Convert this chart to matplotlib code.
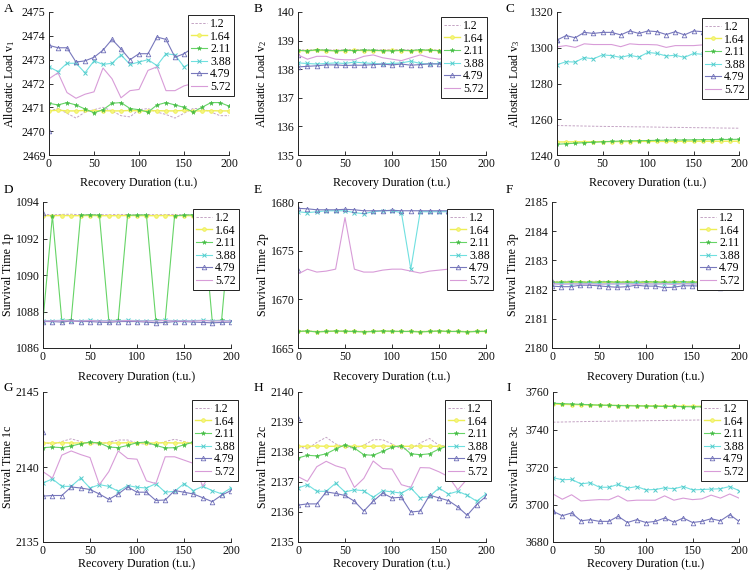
import matplotlib
matplotlib.use("Agg")
import matplotlib.pyplot as plt
import matplotlib.transforms as mtransforms

plt.rcParams['font.family'] = ['Liberation Serif', 'DejaVu Serif']
plt.rcParams['mathtext.fontset'] = 'custom'
plt.rcParams['mathtext.rm'] = 'Liberation Serif'
plt.rcParams['mathtext.it'] = 'Liberation Serif:italic'

# ---------------- data ----------------
recovery = [0, 10, 20, 30, 40, 50, 60, 70, 80, 90, 100, 110, 120, 130, 140, 150, 160, 170, 180, 190, 200]
# the 4.79 series has an extra starting point at duration 0
recovery_479 = [0, 0, 10, 20, 30, 40, 50, 60, 70, 80, 90, 100, 110, 120, 130, 140, 150, 160, 170, 180, 190, 200]
series_labels = ['1.2', '1.64', '2.11', '3.88', '4.79', '5.72']

# Panel A: Allostatic Load v1
A_12 = [2470.85, 2470.95, 2470.75, 2470.55, 2470.8, 2470.9, 2471.0, 2470.85, 2470.65, 2470.6, 2470.9, 2470.95, 2470.8, 2470.7, 2470.55, 2470.75, 2470.95, 2470.95, 2470.8, 2470.65, 2470.65]
A_164 = [2470.85, 2470.88, 2470.85, 2470.85, 2470.87, 2470.85, 2470.86, 2470.85, 2470.85, 2470.87, 2470.85, 2470.85, 2470.86, 2470.85, 2470.85, 2470.87, 2470.85, 2470.85, 2470.86, 2470.85, 2470.85]
A_211 = [2471.17, 2471.1, 2471.2, 2471.1, 2470.93, 2470.77, 2470.9, 2471.17, 2471.2, 2470.95, 2470.9, 2470.8, 2471.1, 2471.2, 2471.1, 2471.0, 2470.8, 2471.0, 2471.2, 2471.2, 2471.05]
A_388 = [2472.7, 2472.5, 2472.85, 2472.85, 2472.45, 2472.95, 2472.8, 2472.85, 2473.2, 2472.8, 2472.9, 2473.0, 2472.75, 2473.25, 2473.2, 2472.7, 2472.9, 2473.0, 2472.8, 2473.1, 2472.95]
A_479 = [2470.0, 2473.6, 2473.5, 2473.5, 2472.9, 2472.95, 2473.1, 2473.4, 2473.85, 2473.45, 2473.0, 2473.25, 2473.25, 2473.95, 2473.85, 2473.1, 2473.25, 2473.5, 2473.3, 2473.6, 2473.45, 2473.15]
A_572 = [2472.2, 2472.45, 2471.62, 2471.38, 2471.55, 2471.65, 2472.65, 2472.2, 2471.4, 2471.7, 2471.75, 2472.55, 2472.7, 2471.7, 2471.7, 2471.9, 2472.0, 2472.3, 2471.9, 2471.6, 2471.9]

# Panel B: Allostatic Load v2
B_12 = [138.68, 138.67, 138.69, 138.68, 138.67, 138.68, 138.69, 138.68, 138.67, 138.68, 138.68, 138.69, 138.67, 138.68, 138.68, 138.67, 138.68, 138.69, 138.68, 138.67, 138.68]
B_164 = [138.65, 138.65, 138.66, 138.65, 138.65, 138.65, 138.66, 138.65, 138.65, 138.65, 138.66, 138.65, 138.65, 138.65, 138.66, 138.65, 138.65, 138.65, 138.66, 138.65, 138.65]
B_211 = [138.66, 138.64, 138.68, 138.66, 138.64, 138.66, 138.65, 138.67, 138.66, 138.65, 138.64, 138.66, 138.65, 138.68, 138.66, 138.65, 138.66, 138.64, 138.66, 138.65, 138.65]
B_388 = [138.22, 138.2, 138.18, 138.2, 138.22, 138.2, 138.25, 138.22, 138.2, 138.18, 138.2, 138.22, 138.28, 138.2, 138.18, 138.2, 138.22, 138.2, 138.2, 138.22, 138.2]
B_479 = [138.5, 138.08, 138.1, 138.12, 138.15, 138.15, 138.13, 138.14, 138.14, 138.16, 138.18, 138.15, 138.18, 138.14, 138.16, 138.19, 138.18, 138.18, 138.2, 138.2, 138.2, 138.2]
B_572 = [138.5, 138.35, 138.45, 138.45, 138.35, 138.33, 138.33, 138.45, 138.5, 138.4, 138.35, 138.3, 138.4, 138.5, 138.4, 138.35, 138.4, 138.45, 138.4, 138.45, 138.4]

# Panel C: Allostatic Load v3
C_12 = [1256.5, 1256.4, 1256.3, 1256.2, 1256.1, 1256.0, 1255.95, 1255.9, 1255.8, 1255.75, 1255.7, 1255.6, 1255.5, 1255.45, 1255.4, 1255.3, 1255.25, 1255.2, 1255.1, 1255.05, 1255.0]
C_164 = [1247.3, 1247.3, 1247.4, 1247.4, 1247.4, 1247.5, 1247.5, 1247.5, 1247.5, 1247.6, 1247.6, 1247.6, 1247.6, 1247.6, 1247.7, 1247.7, 1247.7, 1247.7, 1247.7, 1247.7, 1247.7]
C_211 = [1246.0, 1246.3, 1246.6, 1246.9, 1247.1, 1247.4, 1247.6, 1247.8, 1247.9, 1248.0, 1248.1, 1248.2, 1248.3, 1248.4, 1248.4, 1248.5, 1248.6, 1248.6, 1248.7, 1248.7, 1248.8]
C_388 = [1290.5, 1292.2, 1292.0, 1294.5, 1293.8, 1296.0, 1295.6, 1294.6, 1295.8, 1294.8, 1297.4, 1296.8, 1295.4, 1295.8, 1294.6, 1296.8, 1296.3, 1296.8, 1295.8, 1296.3, 1296.8]
C_479 = [1304.3, 1304.3, 1306.8, 1305.6, 1308.6, 1308.0, 1308.6, 1308.6, 1307.2, 1309.4, 1308.0, 1309.4, 1309.0, 1307.4, 1309.0, 1307.2, 1309.4, 1309.0, 1309.4, 1308.6, 1309.4, 1309.2]
C_572 = [1300.5, 1301.2, 1300.2, 1302.2, 1301.8, 1301.8, 1301.8, 1300.6, 1302.2, 1301.8, 1301.8, 1301.6, 1300.2, 1301.2, 1301.2, 1301.2, 1301.6, 1301.2, 1301.6, 1301.2, 1300.7]

# Panel D: Survival Time 1p
D_12 = [1093.32, 1093.3, 1093.32, 1093.33, 1093.3, 1093.32, 1093.31, 1093.3, 1093.32, 1093.31, 1093.3, 1093.32, 1093.3, 1093.31, 1093.32, 1093.3, 1093.31, 1093.32, 1093.3, 1093.31, 1093.32]
D_164 = [1093.25, 1093.25, 1093.26, 1093.25, 1093.25, 1093.26, 1093.25, 1093.25, 1093.25, 1093.26, 1093.25, 1093.25, 1093.25, 1093.26, 1093.25, 1093.25, 1093.25, 1093.26, 1093.25, 1093.25, 1093.25]
D_211 = [1087.5, 1093.25, 1087.5, 1087.55, 1093.28, 1093.3, 1093.28, 1087.5, 1087.52, 1093.28, 1093.28, 1093.3, 1087.55, 1087.5, 1093.25, 1093.28, 1093.3, 1093.28, 1087.5, 1087.52, 1093.25]
D_388 = [1087.5, 1087.5, 1087.52, 1087.5, 1087.5, 1087.52, 1087.5, 1087.5, 1087.5, 1087.52, 1087.5, 1087.5, 1087.5, 1087.52, 1087.5, 1087.5, 1087.5, 1087.52, 1087.5, 1087.5, 1087.5]
D_479 = [1093.4, 1087.45, 1087.45, 1087.42, 1087.48, 1087.45, 1087.45, 1087.42, 1087.4, 1087.45, 1087.45, 1087.45, 1087.42, 1087.38, 1087.4, 1087.45, 1087.45, 1087.42, 1087.4, 1087.38, 1087.4, 1087.42]
D_572 = [1087.48, 1087.48, 1087.5, 1087.48, 1087.48, 1087.5, 1087.48, 1087.48, 1087.48, 1087.5, 1087.48, 1087.48, 1087.48, 1087.5, 1087.48, 1087.48, 1087.48, 1087.5, 1087.48, 1087.48, 1087.48]

# Panel E: Survival Time 2p
E_12 = [1666.72, 1666.75, 1666.7, 1666.72, 1666.75, 1666.72, 1666.7, 1666.72, 1666.7, 1666.75, 1666.72, 1666.7, 1666.72, 1666.7, 1666.72, 1666.75, 1666.7, 1666.72, 1666.7, 1666.72, 1666.72]
E_164 = [1666.7, 1666.72, 1666.68, 1666.7, 1666.72, 1666.7, 1666.7, 1666.68, 1666.7, 1666.72, 1666.7, 1666.7, 1666.7, 1666.68, 1666.7, 1666.72, 1666.7, 1666.7, 1666.68, 1666.7, 1666.7]
E_211 = [1666.7, 1666.75, 1666.65, 1666.7, 1666.75, 1666.72, 1666.7, 1666.65, 1666.7, 1666.75, 1666.72, 1666.7, 1666.7, 1666.65, 1666.7, 1666.75, 1666.7, 1666.7, 1666.65, 1666.7, 1666.72]
E_388 = [1679.0, 1678.9, 1679.0, 1679.1, 1679.1, 1679.1, 1678.9, 1678.8, 1679.0, 1679.1, 1679.1, 1678.9, 1673.1, 1679.0, 1679.0, 1679.0, 1679.0, 1679.0, 1679.0, 1679.0, 1679.0]
E_479 = [1673.0, 1679.35, 1679.3, 1679.2, 1679.2, 1679.2, 1679.25, 1679.2, 1679.1, 1679.1, 1679.1, 1679.15, 1679.1, 1679.1, 1679.1, 1679.1, 1679.1, 1679.1, 1679.05, 1679.05, 1679.0, 1679.0]
E_572 = [1672.6, 1673.1, 1672.8, 1672.9, 1673.1, 1678.4, 1673.1, 1672.8, 1672.8, 1673.0, 1673.1, 1673.1, 1672.9, 1672.7, 1672.9, 1673.0, 1673.1, 1673.0, 1672.9, 1673.0, 1673.0]

# Panel F: Survival Time 3p
F_12 = [2182.28, 2182.28, 2182.29, 2182.28, 2182.28, 2182.29, 2182.28, 2182.28, 2182.28, 2182.29, 2182.28, 2182.28, 2182.28, 2182.29, 2182.28, 2182.28, 2182.28, 2182.29, 2182.28, 2182.28, 2182.28]
F_164 = [2182.25, 2182.25, 2182.25, 2182.26, 2182.25, 2182.25, 2182.25, 2182.26, 2182.25, 2182.25, 2182.25, 2182.26, 2182.25, 2182.25, 2182.25, 2182.26, 2182.25, 2182.25, 2182.25, 2182.26, 2182.25]
F_211 = [2182.26, 2182.25, 2182.27, 2182.26, 2182.25, 2182.26, 2182.27, 2182.25, 2182.26, 2182.25, 2182.27, 2182.26, 2182.25, 2182.26, 2182.27, 2182.25, 2182.26, 2182.25, 2182.27, 2182.26, 2182.25]
F_388 = [2182.2, 2182.2, 2182.19, 2182.2, 2182.21, 2182.2, 2182.19, 2182.2, 2182.2, 2182.21, 2182.2, 2182.19, 2182.2, 2182.2, 2182.21, 2182.2, 2182.19, 2182.2, 2182.2, 2182.21, 2182.2]
F_479 = [2182.3, 2182.12, 2182.1, 2182.1, 2182.15, 2182.15, 2182.13, 2182.1, 2182.08, 2182.1, 2182.15, 2182.12, 2182.12, 2182.07, 2182.08, 2182.13, 2182.13, 2182.12, 2182.1, 2182.07, 2182.1, 2182.12]
F_572 = [2182.2, 2182.18, 2182.2, 2182.19, 2182.2, 2182.18, 2182.2, 2182.19, 2182.2, 2182.18, 2182.2, 2182.19, 2182.2, 2182.18, 2182.2, 2182.19, 2182.2, 2182.18, 2182.2, 2182.19, 2182.2]

# Panel G: Survival Time 1c
G_12 = [2141.66, 2141.5, 2141.7, 2141.88, 2141.7, 2141.55, 2141.55, 2141.65, 2141.8, 2141.8, 2141.6, 2141.5, 2141.5, 2141.7, 2141.85, 2141.7, 2141.55, 2141.6, 2141.7, 2141.7, 2141.75]
G_164 = [2141.6, 2141.6, 2141.62, 2141.6, 2141.6, 2141.62, 2141.6, 2141.6, 2141.6, 2141.62, 2141.6, 2141.6, 2141.6, 2141.62, 2141.6, 2141.6, 2141.6, 2141.62, 2141.6, 2141.6, 2141.6]
G_211 = [2141.29, 2141.33, 2141.29, 2141.4, 2141.55, 2141.66, 2141.6, 2141.33, 2141.29, 2141.44, 2141.62, 2141.66, 2141.44, 2141.27, 2141.29, 2141.48, 2141.66, 2141.6, 2141.44, 2141.4, 2141.44]
G_388 = [2138.93, 2139.21, 2138.71, 2138.71, 2139.26, 2138.6, 2138.82, 2138.71, 2138.38, 2138.76, 2138.65, 2138.6, 2138.89, 2138.32, 2138.38, 2138.89, 2138.43, 2138.71, 2138.43, 2138.21, 2138.6]
G_479 = [2142.31, 2138.06, 2138.1, 2138.1, 2138.67, 2138.6, 2138.5, 2138.2, 2137.84, 2138.2, 2138.67, 2138.32, 2138.32, 2137.77, 2137.8, 2138.43, 2138.32, 2138.2, 2137.95, 2137.69, 2138.12, 2138.43]
G_572 = [2139.69, 2139.26, 2140.79, 2141.07, 2140.83, 2140.63, 2138.82, 2139.69, 2141.07, 2140.57, 2140.52, 2139.08, 2138.89, 2140.68, 2140.68, 2140.46, 2140.24, 2138.71, 2139.8, 2140.9, 2140.31]

# Panel H: Survival Time 2c
H_12 = [2138.19, 2138.1, 2138.32, 2138.49, 2138.27, 2138.16, 2138.13, 2138.22, 2138.41, 2138.41, 2138.27, 2138.1, 2138.1, 2138.3, 2138.45, 2138.22, 2138.19, 2138.2, 2138.3, 2138.35, 2138.38]
H_164 = [2138.19, 2138.19, 2138.2, 2138.19, 2138.19, 2138.2, 2138.19, 2138.19, 2138.19, 2138.2, 2138.19, 2138.19, 2138.19, 2138.2, 2138.19, 2138.19, 2138.19, 2138.2, 2138.19, 2138.19, 2138.19]
H_211 = [2137.8, 2137.89, 2137.87, 2137.94, 2138.1, 2138.24, 2138.13, 2137.91, 2137.89, 2138.02, 2138.16, 2138.21, 2137.94, 2137.91, 2137.94, 2138.1, 2138.21, 2138.16, 2138.0, 2137.94, 2138.02]
H_388 = [2136.8, 2136.91, 2136.69, 2136.69, 2136.96, 2136.67, 2136.74, 2136.71, 2136.49, 2136.71, 2136.67, 2136.63, 2136.8, 2136.47, 2136.52, 2136.8, 2136.6, 2136.69, 2136.56, 2136.36, 2136.6]
H_479 = [2139.14, 2136.23, 2136.27, 2136.27, 2136.67, 2136.62, 2136.55, 2136.36, 2136.03, 2136.36, 2136.63, 2136.47, 2136.49, 2136.0, 2136.03, 2136.56, 2136.47, 2136.38, 2136.17, 2135.89, 2136.25, 2136.52]
H_572 = [2137.18, 2137.02, 2137.51, 2137.69, 2137.54, 2137.45, 2136.82, 2137.12, 2137.7, 2137.45, 2137.43, 2136.91, 2136.82, 2137.48, 2137.47, 2137.34, 2137.18, 2136.74, 2137.1, 2137.6, 2137.36]

# Panel I: Survival Time 3c
I_12 = [3743.9, 3744.0, 3744.1, 3744.2, 3744.3, 3744.35, 3744.4, 3744.5, 3744.55, 3744.6, 3744.7, 3744.75, 3744.8, 3744.9, 3744.95, 3745.0, 3745.1, 3745.15, 3745.2, 3745.3, 3745.4]
I_164 = [3753.6, 3753.4, 3753.3, 3753.2, 3753.1, 3753.0, 3752.9, 3752.8, 3752.8, 3752.7, 3752.6, 3752.6, 3752.5, 3752.5, 3752.4, 3752.4, 3752.4, 3752.3, 3752.3, 3752.3, 3752.2]
I_211 = [3754.0, 3753.8, 3753.6, 3753.4, 3753.2, 3753.0, 3752.9, 3752.8, 3752.7, 3752.6, 3752.5, 3752.4, 3752.3, 3752.3, 3752.2, 3752.1, 3752.1, 3752.0, 3752.0, 3751.9, 3751.9]
I_388 = [3714.3, 3713.2, 3713.4, 3711.0, 3711.6, 3709.2, 3709.2, 3710.7, 3708.7, 3709.6, 3707.8, 3708.0, 3708.9, 3708.4, 3709.6, 3707.8, 3708.0, 3708.2, 3708.4, 3709.6, 3707.4]
I_479 = [3696.4, 3696.4, 3694.0, 3695.5, 3691.3, 3691.9, 3691.0, 3691.0, 3693.7, 3690.4, 3691.9, 3690.4, 3691.0, 3692.8, 3690.6, 3692.8, 3690.4, 3691.0, 3692.4, 3691.3, 3694.6, 3691.0]
I_572 = [3705.6, 3702.8, 3705.2, 3701.9, 3702.3, 3702.6, 3702.5, 3704.6, 3701.9, 3702.3, 3702.3, 3702.3, 3704.6, 3702.3, 3703.4, 3702.6, 3703.0, 3705.0, 3703.4, 3705.6, 3703.4]

# ---------------- styling ----------------
styles = [
    dict(color='#c4a4c4', lw=0.7, ls=(0, (2.5, 1.5)), marker=None),
    dict(color='#eeee55', lw=1.0, ls='-', marker='o', ms=2.6, mfc='#f6f680', mec='#eeee55', mew=0.6),
    dict(color='#66d466', lw=0.8, ls='-', marker='*', ms=3.4, mfc='#44bb44', mec='#44bb44', mew=0.3),
    dict(color='#70e0e0', lw=0.8, ls='-', marker='x', ms=2.5, mec='#55cccc', mew=0.7),
    dict(color='#7878bc', lw=0.8, ls='-', marker='^', ms=3.3, mfc='none', mec='#7070b8', mew=0.6),
    dict(color='#d89cd8', lw=0.8, ls='-', marker=None),
]

W, H = 750, 571
fig = plt.figure(figsize=(W / 100, H / 100), dpi=100)

def add_axes_px(l, t, r, b):
    return fig.add_axes([l / W, 1 - b / H, (r - l) / W, (b - t) / H])

panels = [
    # letter, box(l,t,r,b), ylim, yticks, ylabel, series, legend corner, ylabel x, letter pos, xlabel y
    ('A', (49, 12, 229, 155), (2469, 2475), [2469, 2470, 2471, 2472, 2473, 2474, 2475], 'Allostatic Load v$_1$',
     [A_12, A_164, A_211, A_388, A_479, A_572], (234, 15), 10, (4, 9), 183),
    ('B', (298, 12, 486, 155), (135, 140), [135, 136, 137, 138, 139, 140], 'Allostatic Load v$_2$',
     [B_12, B_164, B_211, B_388, B_479, B_572], (487, 17), 262, (254, 9), 183),
    ('C', (557, 12, 739, 155), (1240, 1320), [1240, 1260, 1280, 1300, 1320], 'Allostatic Load v$_3$',
     [C_12, C_164, C_211, C_388, C_479, C_572], (748, 18), 515, (506, 9), 183),
    ('D', (43, 202, 231, 348), (1086, 1094), [1086, 1088, 1090, 1092, 1094], 'Survival Time 1p',
     [D_12, D_164, D_211, D_388, D_479, D_572], (239, 209), 8, (4, 190), 377),
    ('E', (298, 202, 486, 348), (1665, 1680), [1665, 1670, 1675, 1680], 'Survival Time 2p',
     [E_12, E_164, E_211, E_388, E_479, E_572], (493, 209), 263, (254, 190), 377),
    ('F', (552, 202, 739, 348), (2180, 2185), [2180, 2181, 2182, 2183, 2184, 2185], 'Survival Time 3p',
     [F_12, F_164, F_211, F_388, F_479, F_572], (743, 209), 513, (506, 190), 377),
    ('G', (43, 392, 231, 542), (2135, 2145), [2135, 2140, 2145], 'Survival Time 1c',
     [G_12, G_164, G_211, G_388, G_479, G_572], (238, 400), 8, (4, 388), 564),
    ('H', (298, 392, 486, 542), (2135, 2140), [2135, 2136, 2137, 2138, 2139, 2140], 'Survival Time 2c',
     [H_12, H_164, H_211, H_388, H_479, H_572], (491, 400), 263, (254, 388), 564),
    ('I', (553, 392, 739, 542), (3680, 3760), [3680, 3700, 3720, 3740, 3760], 'Survival Time 3c',
     [I_12, I_164, I_211, I_388, I_479, I_572], (747, 400), 515, (506, 388), 564),
]

TFS = 8.6   # tick labels
LFS = 8.6   # axis labels
GFS = 8.5   # legend
for letter, box, ylim, yticks, ylabel, series, leg_corner, ylab_x, let_pos, xlab_y in panels:
    ax = add_axes_px(*box)
    for lab, vals, st in zip(series_labels, series, styles):
        xs = recovery_479 if len(vals) == len(recovery_479) else recovery
        st = dict(st)
        ls = st.pop('ls')
        ax.plot(xs, vals, linestyle=ls, label=lab, **st)
    ax.set_xlim(0, 200)
    ax.set_ylim(*ylim)
    ax.set_xticks([0, 50, 100, 150, 200])
    ax.set_yticks(yticks)
    for s in ['top', 'right']:
        ax.spines[s].set_visible(False)
    for s in ['left', 'bottom']:
        ax.spines[s].set_linewidth(0.7)
        ax.spines[s].set_color('#222222')
    ax.tick_params(direction='in', length=3, width=0.6, labelsize=TFS, pad=2.5, colors='#111111')
    ax.set_ylabel(ylabel, fontsize=LFS)
    ax.set_xlabel('Recovery Duration (t.u.)', fontsize=LFS)
    ax.yaxis.set_label_coords(ylab_x / W, 0.5,
                              transform=mtransforms.blended_transform_factory(fig.transFigure, ax.transAxes))
    ax.xaxis.set_label_coords(0.5, 1 - xlab_y / H,
                              transform=mtransforms.blended_transform_factory(ax.transAxes, fig.transFigure))
    ax.xaxis.label.set_va('center')
    ax.yaxis.label.set_va('center')
    leg = ax.legend(loc='upper right', bbox_to_anchor=(leg_corner[0] / W, 1 - leg_corner[1] / H),
                    bbox_transform=fig.transFigure, borderaxespad=0, fontsize=GFS,
                    frameon=True, fancybox=False, framealpha=1, edgecolor='#222222',
                    handlelength=1.3, handletextpad=0.3, borderpad=0.25, labelspacing=0.05)
    leg.get_frame().set_linewidth(0.7)
    fig.text(let_pos[0] / W, 1 - let_pos[1] / H, letter, fontsize=9.5, ha='left', va='center')

fig.savefig('out.png', dpi=100)
